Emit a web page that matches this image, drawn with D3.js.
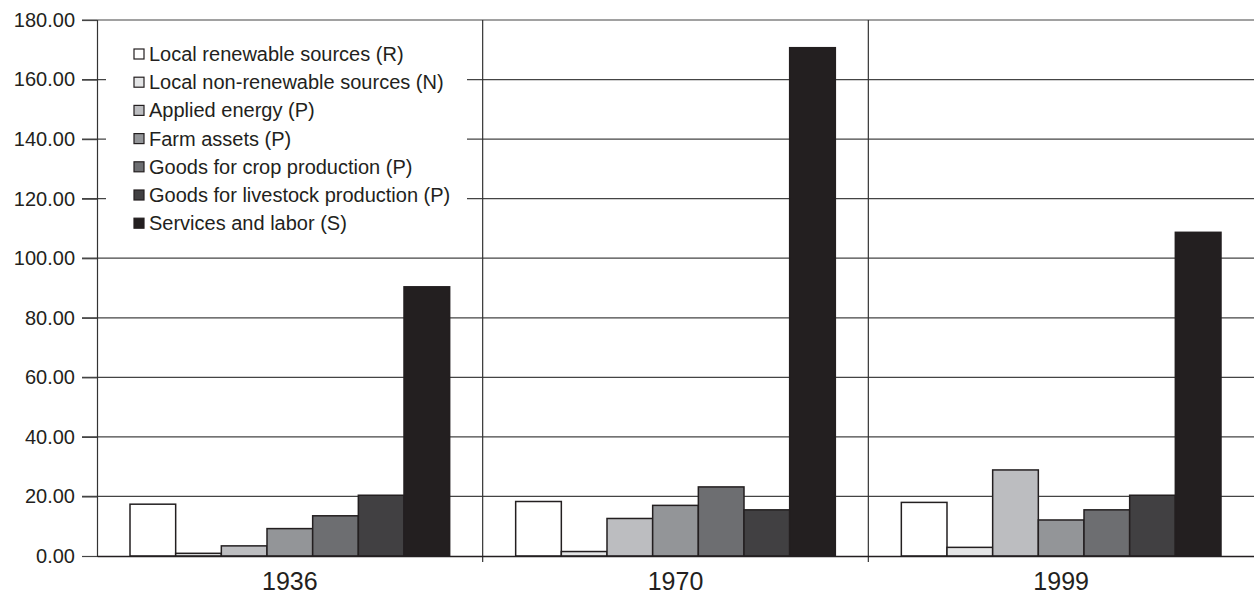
<!DOCTYPE html>
<html>
<head>
<meta charset="utf-8">
<script src="https://cdn.jsdelivr.net/npm/d3@7"></script>
<style>
  html, body { margin: 0; padding: 0; background: #fff; }
  svg { display: block; font-family: "Liberation Sans", Arial, Helvetica, sans-serif; }
</style>
</head>
<body>
<svg id="chart" width="1254" height="598"></svg>
<script>
const years = ["1936", "1970", "1999"];
const seriesNames = [
  "Local renewable sources (R)",
  "Local non-renewable sources (N)",
  "Applied energy (P)",
  "Farm assets (P)",
  "Goods for crop production (P)",
  "Goods for livestock production (P)",
  "Services and labor (S)"
];
const seriesColors = ["#ffffff", "#e4e5e6", "#bcbdc0", "#939598", "#6d6e71", "#414042", "#231f20"];
const localRenewable    = [17.4, 18.3, 18.0];
const localNonRenewable = [0.9, 1.5, 2.9];
const appliedEnergy     = [3.4, 12.6, 28.9];
const farmAssets        = [9.2, 17.0, 12.1];
const goodsCrop         = [13.5, 23.2, 15.5];
const goodsLivestock    = [20.4, 15.5, 20.4];
const servicesLabor     = [90.4, 170.7, 108.7];
const yTicks = [0, 20, 40, 60, 80, 100, 120, 140, 160, 180];

const values = [localRenewable, localNonRenewable, appliedEnergy, farmAssets, goodsCrop, goodsLivestock, servicesLabor];

const svg = d3.select("#chart");
const mLeft = 97, mRight = 1254, mTop = 20, mBottom = 556;

const y = d3.scaleLinear().domain([0, 180]).range([mBottom, mTop]);
const x0 = d3.scaleBand().domain(years).range([mLeft, mRight]).padding(0);
const step = x0.bandwidth();
const padOuter = 33;
const x1 = d3.scaleBand().domain(d3.range(seriesNames.length)).range([padOuter, step - padOuter]).padding(0);

// gridlines (extend left as ticks)
svg.append("g").selectAll("line").data(yTicks.filter(d => d > 0)).join("line")
  .attr("x1", mLeft - 15).attr("x2", mRight)
  .attr("y1", d => y(d)).attr("y2", d => y(d))
  .attr("stroke", "#444").attr("stroke-width", 1.2);

// category separators
svg.append("g").selectAll("line").data(years.slice(1)).join("line")
  .attr("x1", d => x0(d)).attr("x2", d => x0(d))
  .attr("y1", mTop).attr("y2", mBottom + 6)
  .attr("stroke", "#333").attr("stroke-width", 1.2);

// legend background
const legendX = 106, legendY = 21;
svg.append("rect").attr("x", legendX).attr("y", legendY)
  .attr("width", 361).attr("height", 236).attr("fill", "#fff");

// bars
const groups = svg.append("g").selectAll("g").data(years).join("g")
  .attr("transform", d => `translate(${x0(d)},0)`);
groups.selectAll("rect").data((yr, i) => values.map((s, k) => ({k, v: s[i]}))).join("rect")
  .attr("x", d => x1(d.k))
  .attr("width", x1.bandwidth())
  .attr("y", d => y(d.v))
  .attr("height", d => y(0) - y(d.v))
  .attr("fill", d => seriesColors[d.k])
  .attr("stroke", "#231f20")
  .attr("stroke-width", 1.5);

// y axis
const yAxis = d3.axisLeft(y).tickValues(yTicks).tickSize(15).tickFormat(d3.format(".2f"));
const ya = svg.append("g").attr("transform", `translate(${mLeft},0)`).call(yAxis);
ya.select(".domain").attr("stroke", "#333").attr("stroke-width", 1.2);
ya.selectAll(".tick line").attr("stroke", "#444").attr("stroke-width", 1.2);
ya.selectAll(".tick text").attr("font-size", 20).attr("fill", "#231f20").attr("x", -22)
  .attr("font-family", "'Liberation Sans', Arial, sans-serif");

// x axis
const xa = svg.append("g").attr("transform", `translate(0,${mBottom})`)
  .call(d3.axisBottom(x0).tickSize(0).tickPadding(16));
xa.select(".domain").attr("stroke", "#231f20").attr("stroke-width", 1.5);
xa.selectAll(".tick text").attr("font-size", 25).attr("fill", "#231f20")
  .attr("font-family", "'Liberation Sans', Arial, sans-serif");

// legend
const lg = svg.append("g").selectAll("g").data(seriesNames).join("g")
  .attr("transform", (d, i) => `translate(134,${54 + i * 28.2})`);
lg.append("rect").attr("x", 0).attr("y", -5).attr("width", 10).attr("height", 10)
  .attr("fill", (d, i) => seriesColors[i]).attr("stroke", "#231f20").attr("stroke-width", 1.2);
lg.append("text").attr("x", 15).attr("y", 0).attr("dy", "0.35em")
  .attr("font-size", 20).attr("fill", "#231f20").text(d => d);
</script>
</body>
</html>
